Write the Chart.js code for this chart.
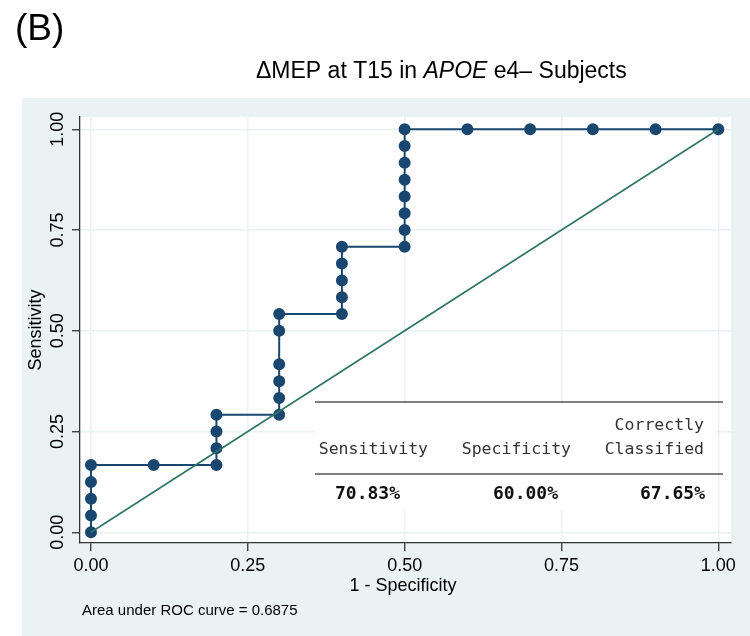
<!DOCTYPE html>
<html>
<head>
<meta charset="utf-8">
<script src="https://cdn.jsdelivr.net/npm/chart.js@4.4.0/dist/chart.umd.min.js"></script>
<style>body{margin:0;background:#fff}</style>
</head>
<body>
<canvas id="roc" width="750" height="636"></canvas>
<script>
// ROC points: 1 - specificity (x) and sensitivity (y)
const oneMinusSpec = [0, 0, 0, 0, 0, 0.1, 0.2, 0.2, 0.2, 0.2,
  0.3, 0.3, 0.3, 0.3, 0.3, 0.3, 0.4, 0.4, 0.4, 0.4, 0.4,
  0.5, 0.5, 0.5, 0.5, 0.5, 0.5, 0.5, 0.5, 0.6, 0.7, 0.8, 0.9, 1.0];
const sensitivity = [0, 0.0417, 0.0833, 0.125, 0.1667, 0.1667, 0.1667, 0.2083, 0.25, 0.2917,
  0.2917, 0.3333, 0.375, 0.4167, 0.5, 0.5417, 0.5417, 0.5833, 0.625, 0.6667, 0.7083,
  0.7083, 0.75, 0.7917, 0.8333, 0.875, 0.9167, 0.9583, 1, 1, 1, 1, 1, 1];
const refX = [0, 1];
const refY = [0, 1];
const tickVals = [0, 0.25, 0.5, 0.75, 1];
const tableHead1 = ['', '', 'Correctly'];
const tableHead2 = ['Sensitivity', 'Specificity', 'Classified'];
const tableVals = ['70.83%', '60.00%', '67.65%'];
const aucText = 'Area under ROC curve = 0.6875';

const FONT = '"Liberation Sans", Arial, Helvetica, sans-serif';
const MONO = '"DejaVu Sans Mono", monospace';
const BG = '#eaf2f3';
const NAVY = '#1a476f';

const pts = oneMinusSpec.map((x, i) => ({x: x, y: sensitivity[i]}));
const ref = refX.map((x, i) => ({x: x, y: refY[i]}));

const decor = {
  id: 'decor',
  beforeDraw(chart) {
    const c = chart.ctx, a = chart.chartArea;
    c.save();
    c.fillStyle = '#fff';
    c.fillRect(0, 0, chart.width, chart.height);
    c.fillStyle = BG;
    c.fillRect(22, 98, chart.width - 22, chart.height - 98);
    c.fillStyle = '#fff';
    c.fillRect(a.left, a.top, a.right - a.left, a.bottom - a.top);
    c.restore();
  },
  afterDraw(chart) {
    const c = chart.ctx, ys = chart.scales.y;
    c.save();
    c.fillStyle = '#000';
    // panel label and title
    c.textBaseline = 'alphabetic';
    c.textAlign = 'left';
    c.font = '37px ' + FONT;
    c.fillText('(B)', 15, 40);
    let x = 256;
    const parts = [['ΔMEP at T15 in ', ''], ['APOE', 'italic '], [' e4– Subjects', '']];
    parts.forEach(p => {
      c.font = p[1] + '23px ' + FONT;
      c.fillText(p[0], x, 78);
      x += c.measureText(p[0]).width;
    });
    // y tick labels, rotated
    c.font = '18px ' + FONT;
    c.textAlign = 'center';
    ys.ticks.forEach(t => {
      const py = ys.getPixelForValue(t.value);
      c.save();
      c.translate(63, py);
      c.rotate(-Math.PI / 2);
      c.fillText(t.value.toFixed(2), 0, 0);
      c.restore();
    });
    // axis titles
    c.save();
    c.translate(41, 330);
    c.rotate(-Math.PI / 2);
    c.fillText('Sensitivity', 0, 0);
    c.restore();
    c.fillText('1 - Specificity', 403, 591);
    c.textAlign = 'left';
    c.font = '15px ' + FONT;
    c.fillText(aucText, 82, 615);
    // classification table
    c.fillStyle = '#fff';
    c.fillRect(315, 403, 402, 108);
    c.strokeStyle = '#555';
    c.lineWidth = 1.5;
    [402, 474].forEach(ly => {
      c.beginPath(); c.moveTo(315, ly); c.lineTo(723, ly); c.stroke();
    });
    const colRight = [428, 571, 704];
    c.textAlign = 'right';
    c.textBaseline = 'middle';
    c.fillStyle = '#333';
    c.font = '16.5px ' + MONO;
    tableHead1.forEach((s, i) => c.fillText(s, colRight[i], 426));
    tableHead2.forEach((s, i) => c.fillText(s, colRight[i], 450));
    c.fillStyle = '#111';
    c.font = 'bold 18px ' + MONO;
    const valRight = [400, 558, 705];
    tableVals.forEach((s, i) => c.fillText(s, valRight[i], 494));
    c.restore();
  }
};

new Chart(document.getElementById('roc'), {
  type: 'scatter',
  data: {
    datasets: [{
      data: ref,
      showLine: true,
      borderColor: '#2e7566',
      borderWidth: 1.6,
      pointRadius: 0
    }, {
      data: pts,
      showLine: true,
      borderColor: NAVY,
      borderWidth: 2,
      pointRadius: 5,
      pointBackgroundColor: NAVY,
      pointBorderColor: NAVY
    }]
  },
  options: {
    responsive: false,
    animation: false,
    events: [],
    layout: {padding: {left: 0, top: 117, right: 19, bottom: 0}},
    plugins: {legend: {display: false}, tooltip: {enabled: false}},
    scales: {
      x: {
        type: 'linear',
        min: -0.0175, max: 1.0202,
        afterBuildTicks: s => { s.ticks = tickVals.map(v => ({value: v})); },
        afterFit: s => { s.height = 93; },
        grid: {color: BG, lineWidth: 1.5, tickColor: '#333', tickLength: 8, tickWidth: 1.3},
        border: {color: '#333', width: 1.3},
        ticks: {
          color: '#000', padding: 4, maxRotation: 0,
          font: {family: FONT, size: 18},
          callback: v => Number(v).toFixed(2)
        }
      },
      y: {
        type: 'linear',
        min: -0.0266, max: 1.0305,
        afterBuildTicks: s => { s.ticks = tickVals.map(v => ({value: v})); },
        afterFit: s => { s.width = 80; },
        grid: {color: BG, lineWidth: 1.5, tickColor: '#333', tickLength: 8, tickWidth: 1.3},
        border: {color: '#333', width: 1.3},
        ticks: {display: false}
      }
    }
  },
  plugins: [decor]
});
</script>
</body>
</html>
